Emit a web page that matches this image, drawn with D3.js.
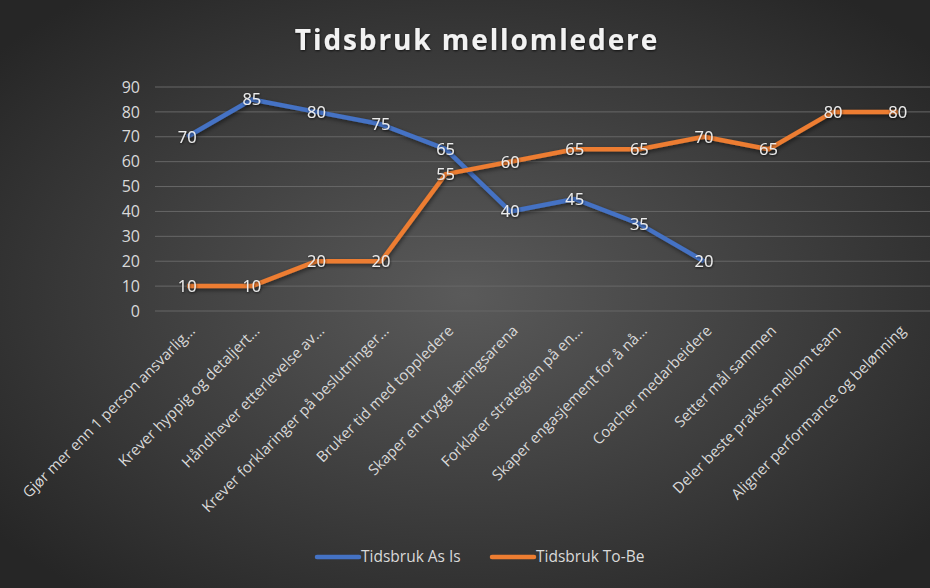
<!DOCTYPE html>
<html>
<head>
<meta charset="utf-8">
<style>
    html, body { margin: 0; padding: 0; background: #2b2b2b; }
    svg { display: block; }
    text { font-family: "Open Sans", "DejaVu Sans", sans-serif; }
</style>
</head>
<body>
<svg id="chart"></svg>
<script src="https://cdnjs.cloudflare.com/ajax/libs/d3/7.8.5/d3.min.js"></script>
<script>
    // chart data
    var categories = [
        "Gjør mer enn 1 person ansvarlig…",
        "Krever hyppig og detaljert…",
        "Håndhever etterlevelse av…",
        "Krever forklaringer på beslutninger…",
        "Bruker tid med toppledere",
        "Skaper en trygg læringsarena",
        "Forklarer strategien på en…",
        "Skaper engasjement for å nå…",
        "Coacher medarbeidere",
        "Setter mål sammen",
        "Deler beste praksis mellom team",
        "Aligner performance og belønning"
    ];
    var asIs = [70, 85, 80, 75, 65, 40, 45, 35, 20, null, null, null];
    var toBe = [10, 10, 20, 20, 55, 60, 65, 65, 70, 65, 80, 80];
    var yTicks = [0, 10, 20, 30, 40, 50, 60, 70, 80, 90];
    var seriesNames = ["Tidsbruk As Is", "Tidsbruk To-Be"];
    var seriesColors = ["#4472C4", "#ED7D31"];

    var width = 930, height = 588;
    var svg = d3.select('#chart').attr('width', width).attr('height', height);

    var defs = svg.append('defs');
    var bg = defs.append('radialGradient').attr('id', 'bg')
        .attr('cx', '50%').attr('cy', '50%').attr('r', '65%');
    bg.append('stop').attr('offset', '0%').attr('stop-color', '#5a5a5a');
    bg.append('stop').attr('offset', '100%').attr('stop-color', '#262626');

    var shadow = defs.append('filter').attr('id', 'shadow')
        .attr('x', '-10%').attr('y', '-20%').attr('width', '130%').attr('height', '150%');
    shadow.append('feDropShadow').attr('dx', 1).attr('dy', 2).attr('stdDeviation', 2)
        .attr('flood-color', '#000').attr('flood-opacity', 0.5);

    var txtShadow = defs.append('filter').attr('id', 'txtShadow');
    txtShadow.append('feDropShadow').attr('dx', 0.5).attr('dy', 1).attr('stdDeviation', 0.8)
        .attr('flood-color', '#000').attr('flood-opacity', 0.7);

    svg.append('rect').attr('width', width).attr('height', height).attr('fill', 'url(#bg)');

    var margin = { left: 155, right: 0, top: 87, bottom: 277 };
    var x = d3.scaleBand().domain(categories)
        .range([margin.left, width - margin.right]).paddingInner(0).paddingOuter(0);
    var y = d3.scaleLinear().domain([0, 90]).range([height - margin.bottom, margin.top]);
    var cx = function (i) { return x(categories[i]) + x.bandwidth() / 2; };

    // title
    svg.append('text')
        .attr('x', 477).attr('y', 50)
        .attr('text-anchor', 'middle')
        .attr('fill', '#f2f2f2')
        .attr('font-size', 28).attr('font-weight', 'bold')
        .attr('letter-spacing', 1.9)
        .attr('filter', 'url(#txtShadow)')
        .text('Tidsbruk mellomledere');

    // gridlines
    svg.append('g')
        .selectAll('line').data(yTicks).enter().append('line')
        .attr('x1', margin.left).attr('x2', width)
        .attr('y1', d => y(d)).attr('y2', d => y(d))
        .attr('stroke', '#676767').attr('stroke-width', 1);

    // y axis
    var yAxis = svg.append('g')
        .attr('transform', 'translate(140,0)')
        .call(d3.axisLeft(y).tickValues(yTicks).tickSize(0).tickPadding(0));
    yAxis.select('.domain').remove();
    yAxis.selectAll('text')
        .attr('fill', '#d9d9d9').attr('font-size', 16)
        .style('font-family', '"Open Sans", sans-serif');

    // x axis labels
    var xAxis = svg.append('g');
    xAxis.selectAll('text').data(categories).enter().append('text')
        .attr('transform', (d, i) => 'translate(' + (cx(i) + 5) + ',' + 328 + ') rotate(-45)')
        .attr('text-anchor', 'end')
        .attr('dy', '0.35em')
        .attr('fill', '#d9d9d9')
        .attr('font-size', 15)
        .text(d => d);

    // lines
    var series = [asIs, toBe];
    var line = d3.line()
        .defined(d => d != null)
        .x((d, i) => cx(i))
        .y(d => y(d));

    series.forEach(function (s, k) {
        svg.append('path')
            .datum(s)
            .attr('fill', 'none')
            .attr('stroke', seriesColors[k])
            .attr('stroke-width', 4.5)
            .attr('stroke-linejoin', 'round')
            .attr('filter', 'url(#shadow)')
            .attr('d', line);
    });

    // data labels
    series.forEach(function (s, k) {
        svg.append('g').selectAll('text')
            .data(s.map((v, i) => ({ v: v, i: i })).filter(d => d.v != null))
            .enter().append('text')
            .attr('x', d => cx(d.i))
            .attr('y', d => y(d.v))
            .attr('dy', '0.36em')
            .attr('text-anchor', 'middle')
            .attr('fill', '#ececec')
            .attr('font-size', 16.5)
            .attr('filter', 'url(#txtShadow)')
            .text(d => d.v);
    });

    // legend
    var legend = svg.append('g');
    var legendX = [317, 492];
    seriesNames.forEach(function (name, k) {
        var g = legend.append('g').attr('transform', 'translate(' + legendX[k] + ',557)');
        g.append('line').attr('x1', 0).attr('x2', 42).attr('y1', 0).attr('y2', 0)
            .attr('stroke', seriesColors[k]).attr('stroke-width', 4.5)
            .attr('stroke-linecap', 'round');
        g.append('text').attr('x', 44).attr('dy', '0.35em')
            .attr('fill', '#d9d9d9').attr('font-size', 15.5)
            .text(name);
    });
</script>
</body>
</html>
